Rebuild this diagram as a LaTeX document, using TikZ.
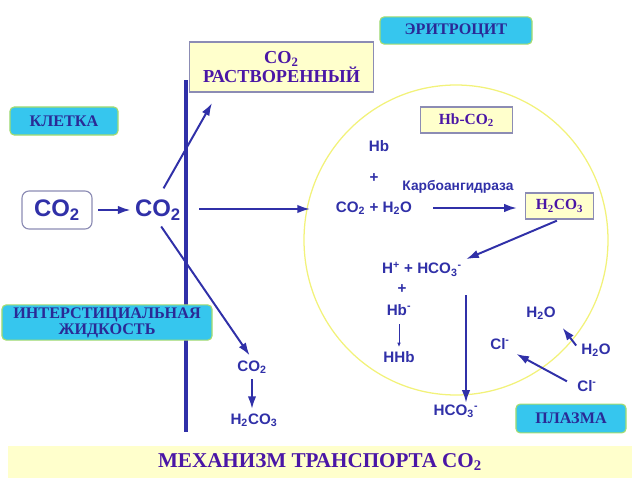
\documentclass[tikz,border=0pt]{standalone}
\usepackage{fontspec}
\setmainfont{Liberation Sans}
\newfontfamily\lblfont{Liberation Serif}
\usepackage{xcolor}
\usetikzlibrary{positioning, arrows.meta}
\definecolor{inkblue}{HTML}{3030A8}
\definecolor{tagblue}{HTML}{2A2A96}
\definecolor{purpink}{HTML}{4A16A6}
\definecolor{tagcyan}{HTML}{36C6EE}
\definecolor{tagedge}{HTML}{A6DC6E}
\definecolor{paleyellow}{HTML}{FFFFCC}
\definecolor{yelledge}{HTML}{8C8CB4}
\definecolor{cellring}{HTML}{F2F27A}
\newcommand\dn[1]{\textsubscript{#1}}
\newcommand\up[1]{\textsuperscript{#1}}

\begin{document}
\begin{tikzpicture}[x=0.025cm, y=-0.025cm,
    tag/.style={fill=tagcyan, draw=tagedge, line width=0.8pt, rounded corners=3pt,
                text=tagblue, align=center, inner sep=0pt,
                font=\lblfont\bfseries\fontsize{11.5}{11.5}\selectfont},
    note/.style={fill=paleyellow, draw=yelledge, line width=0.8pt, inner sep=0pt,
                 text=purpink, align=center,
                 font=\lblfont\bfseries\fontsize{11}{12}\selectfont},
    chem/.style={text=inkblue, inner sep=1pt, font=\bfseries\fontsize{10.8}{12}\selectfont},
    arr/.style={draw=inkblue, line width=1.4pt, -{Latex[length=9pt,width=6pt]}}]
  \useasboundingbox (0,0) rectangle (640,480);

  % membrane and cell
  \draw[inkblue, line width=2.2pt] (186,80) -- (186,432);
  \draw[cellring, line width=0.9pt] (456,240) ellipse [x radius=152, y radius=155];

  % labels
  \node[tag, minimum width=2.7cm, minimum height=0.7cm] (klet) at (64,121) {КЛЕТКА};
  \node[tag, minimum width=3.8cm, minimum height=0.68cm] (eryt) at (456,30.5) {ЭРИТРОЦИТ};
  \node[tag, minimum width=5.25cm, minimum height=0.88cm] (inter) at (107,322.5)
    {ИНТЕРСТИЦИАЛЬНАЯ\\ЖИДКОСТЬ};
  \node[tag, minimum width=2.75cm, minimum height=0.72cm] (plasma) at (571,418.5) {ПЛАЗМА};

  \node[note, minimum width=4.58cm, minimum height=1.25cm,
        font=\lblfont\bfseries\fontsize{13}{13.5}\selectfont] (diss) at (281.5,67)
    {CO\dn{2}\\РАСТВОРЕННЫЙ};
  \node[note, minimum width=2.28cm, minimum height=0.65cm] (hbco) at (466.5,120) {Hb-CO\dn{2}};
  \node[note, minimum width=1.68cm, minimum height=0.65cm] (h2co3) at (559.5,206) {H\dn{2}CO\dn{3}};
  \node[fill=paleyellow, minimum width=15.6cm, minimum height=0.8cm, text=purpink,
        font=\lblfont\bfseries\fontsize{15}{17}\selectfont] (band) at (320,462)
    {МЕХАНИЗМ ТРАНСПОРТА CO\dn{2}};

  % cell side
  \node[draw=yelledge, rounded corners=5pt, line width=0.8pt, text=inkblue,
        minimum width=1.75cm, minimum height=0.95cm,
        font=\bfseries\fontsize{17}{19}\selectfont] (co2a) at (57,210) {CO\dn{2}};
  \node[text=inkblue, inner sep=1pt, font=\bfseries\fontsize{17}{19}\selectfont] (co2b) at (158,210) {CO\dn{2}};

  \node[chem] (co2c) at (252,367) {CO\dn{2}};
  \node[chem] (acid) at (254,420) {H\dn{2}CO\dn{3}};

  % inside the erythrocyte
  \node[chem] (hb) at (379,146) {Hb};
  \node[chem] (plus1) at (374,178) {+};
  \node[chem, font=\bfseries\fontsize{9.8}{11}\selectfont] (enz) at (458,187) {Карбоангидраза};
  \node[chem] (reac) at (374,208) {CO\dn{2} + H\dn{2}O};
  \node[chem] (hplus) at (422,269) {H\up{+} + HCO\dn{3}\up{-}};
  \node[chem] (plus2) at (402,289) {+};
  \node[chem] (hbm) at (399,310) {Hb\up{-}};
  \node[chem] (hhb) at (399,357) {HHb};
  \node[chem] (hco3) at (456,411) {HCO\dn{3}\up{-}};

  % plasma side
  \node[chem] (h2oa) at (541,313) {H\dn{2}O};
  \node[chem] (cla) at (500,344) {Cl\up{-}};
  \node[chem] (h2ob) at (596,350) {H\dn{2}O};
  \node[chem] (clb) at (587,386) {Cl\up{-}};

  \coordinate (dtip) at (212,103);
  \coordinate (ein) at (310,209);
  \coordinate (vtop) at (466,295);

  \draw[arr, shorten <=4pt, shorten >=2pt] (co2a.east) -- (co2a.east -| co2b.west);
  \draw[arr, shorten <=8pt] (co2b.north) -- (dtip);
  \draw[arr, shorten <=12pt] (co2b.east |- ein) -- (ein);
  \draw[arr, shorten <=4pt, shorten >=3pt] (co2b.south) -- (co2c.north);
  \draw[arr, shorten <=3pt, shorten >=2pt] (co2c.south) -- (co2c.south |- acid.north);

  \draw[arr, shorten <=14pt, shorten >=6pt] (reac.east) -- (reac.east -| h2co3.west);
  \draw[arr, shorten <=2pt, shorten >=2pt] (h2co3.south) -- (hplus.north east);
  \draw[inkblue, line width=0.5pt, -{Latex[length=3pt,width=2.5pt]}, shorten <=5pt, shorten >=2pt]
    (hbm.south) -- (hbm.south |- hhb.north);
  \draw[arr] (vtop) -- (vtop |- hco3.north);

  \draw[arr, shorten <=4pt, shorten >=6pt] (h2ob.west) -- (h2oa.south east);
  \draw[arr, shorten <=7pt, shorten >=4pt] (clb.west) -- (cla.south east);
\end{tikzpicture}
\end{document}
